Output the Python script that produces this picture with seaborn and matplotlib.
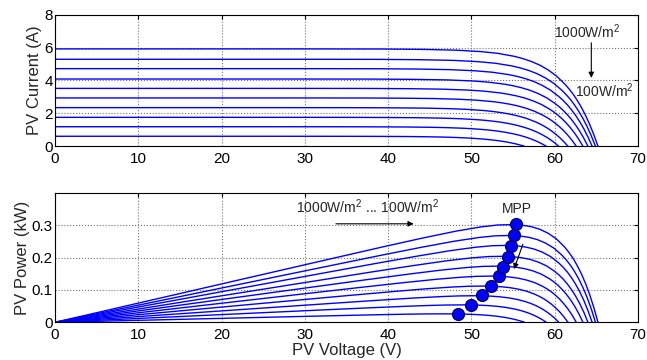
import numpy as np
import pandas as pd
import matplotlib
matplotlib.use("Agg")
import matplotlib.pyplot as plt
import seaborn as sns

# ---- data ----
irradiance = [100, 200, 300, 400, 500, 600, 700, 800, 900, 1000]          # W/m^2
isc = [0.61, 1.19, 1.76, 2.35, 2.94, 3.52, 4.09, 4.72, 5.29, 5.92]         # A, short-circuit current
voc = [56.4, 59.0, 60.5, 61.6, 62.6, 63.4, 64.0, 64.5, 64.9, 65.2]         # V, open-circuit voltage
# common knee shape: volts below Voc -> fraction of Isc
knee_drop = [0, 0.5, 1, 1.5, 2, 2.5, 3, 3.5, 4, 5, 6, 7, 8, 9, 10, 12, 14, 17, 21, 26, 35]
knee_frac = [0, 0.120, 0.226, 0.319, 0.401, 0.473, 0.537, 0.592, 0.641, 0.723, 0.785,
             0.834, 0.871, 0.900, 0.923, 0.954, 0.972, 0.987, 0.995, 0.999, 1.0]
# maximum power points
mpp_v = [48.4, 50.0, 51.3, 52.3, 53.3, 53.8, 54.4, 54.8, 55.1, 55.3]      # V
mpp_p = [0.027, 0.052, 0.084, 0.111, 0.142, 0.171, 0.202, 0.236, 0.270, 0.303]  # kW

rows = []
for g, i_sc, v_oc in zip(irradiance, isc, voc):
    pts = [(0.0, i_sc)]
    for d, f in sorted(zip(knee_drop, knee_frac), key=lambda t: -t[0]):
        v = v_oc - d
        if v > 0:
            pts.append((v, i_sc * f))
    for v, i in pts:
        rows.append({"G": g, "V": v, "I": i, "P": v * i / 1000.0})
df = pd.DataFrame(rows)

sns.set_style("white")
plt.rcParams["font.family"] = ["Liberation Sans", "DejaVu Sans"]
plt.rcParams["mathtext.fontset"] = "custom"
plt.rcParams["mathtext.rm"] = "Liberation Sans"
plt.rcParams["mathtext.default"] = "regular"

fig = plt.figure(figsize=(6.47, 3.6), dpi=100)
ax1 = fig.add_axes([0.085, 0.5936, 0.901, 0.3656])
ax2 = fig.add_axes([0.085, 0.1047, 0.901, 0.36])

pal = ["#0000ff"] * len(irradiance)
sns.lineplot(data=df, x="V", y="I", hue="G", palette=pal, legend=False,
             sort=False, estimator=None, lw=1.0, ax=ax1)
sns.lineplot(data=df, x="V", y="P", hue="G", palette=pal, legend=False,
             sort=False, estimator=None, lw=1.0, ax=ax2)
sns.scatterplot(x=mpp_v, y=mpp_p, s=75, color="#0000ff", edgecolor="#000040",
                linewidth=0.8, zorder=5, ax=ax2)

for ax in (ax1, ax2):
    ax.set_xlim(0, 70)
    ax.set_xticks(range(0, 71, 10))
    ax.grid(True, ls=":", color="0.45", lw=0.8)
    ax.set_axisbelow(True)
    ax.tick_params(direction="in", top=True, right=True, length=3,
                   labelsize=11, colors="k")
    ax.tick_params(axis="x", pad=4)
    ax.tick_params(axis="y", pad=1.5)
    for s in ax.spines.values():
        s.set_visible(True)
        s.set_color("k")
        s.set_linewidth(0.8)

ax1.set_ylim(0, 8)
ax1.set_yticks([0, 2, 4, 6, 8])
ax1.set_xlabel("")
ax1.set_ylabel("PV Current (A)", fontsize=12, labelpad=2)

ax2.set_ylim(0, 0.4)
ax2.set_yticks([0, 0.1, 0.2, 0.3])
ax2.set_yticklabels(["0", "0.1", "0.2", "0.3"])
ax2.set_xlabel("PV Voltage (V)", fontsize=12, labelpad=1)
ax2.set_ylabel("PV Power (kW)", fontsize=12, labelpad=1)

# annotations
fs = 10
ax1.text(59.9, 6.58, "1000W/m$^2$", fontsize=fs)
ax1.text(62.4, 3.0, "100W/m$^2$", fontsize=fs)
ax1.annotate("", xy=(64.4, 3.99), xytext=(64.4, 6.46),
             arrowprops=dict(arrowstyle="-|>", color="k", lw=0.8, mutation_scale=8))

ax2.text(28.9, 0.337, "1000W/m$^2$ ... 100W/m$^2$", fontsize=fs)
ax2.annotate("", xy=(43.4, 0.304), xytext=(33.4, 0.304),
             arrowprops=dict(arrowstyle="-|>", color="k", lw=0.8, mutation_scale=8))
ax2.text(55.5, 0.338, "MPP", ha="center", fontsize=fs)
ax2.annotate("", xy=(55.0, 0.156), xytext=(56.3, 0.249),
             arrowprops=dict(arrowstyle="-|>", color="k", lw=0.8, mutation_scale=8))

fig.savefig("out.png", dpi=100)
